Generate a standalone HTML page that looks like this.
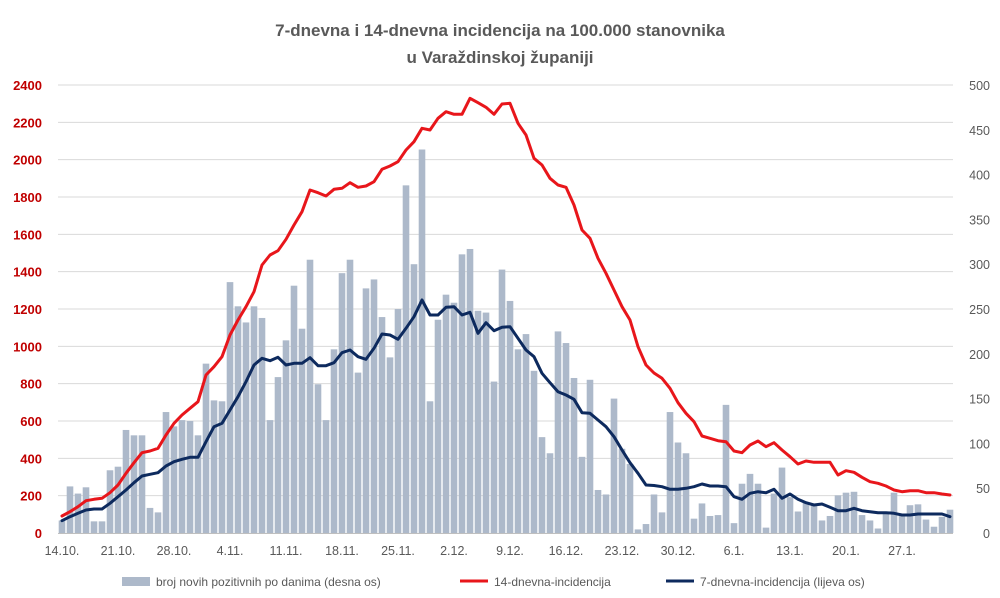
<!DOCTYPE html>
<html><head><meta charset="utf-8"><style>
html,body{margin:0;padding:0;background:#fff;width:1000px;height:598px;overflow:hidden}
svg{display:block}
text{font-family:"Liberation Sans",sans-serif}
</style></head><body>
<svg id="s" width="1000" height="598" viewBox="0 0 1000 598" xmlns="http://www.w3.org/2000/svg">
<text x="500" y="36" text-anchor="middle" font-size="17" font-weight="bold" fill="#595959">7-dnevna i 14-dnevna incidencija na 100.000 stanovnika</text>
<text x="500" y="63" text-anchor="middle" font-size="17" font-weight="bold" fill="#595959">u Varaždinskoj županiji</text>
<g id="grid"></g><g id="bars"></g><g id="lines"></g><g id="labels"></g>
<g font-size="12" fill="#595959">
<rect x="122" y="577" width="28" height="9" fill="#adb9ca"/>
<text x="156" y="586">broj novih pozitivnih po danima (desna os)</text>
<line x1="460" y1="581" x2="488" y2="581" stroke="#e8161b" stroke-width="3"/>
<text x="494" y="586">14-dnevna-incidencija</text>
<line x1="666" y1="581" x2="694" y2="581" stroke="#0d2a5e" stroke-width="3"/>
<text x="700" y="586">7-dnevna-incidencija (lijeva os)</text>
</g>
</svg>
<script>
var NS="http://www.w3.org/2000/svg";
function el(p,t,a,txt){var e=document.createElementNS(NS,t);for(var k in a)e.setAttribute(k,a[k]);if(txt!=null)e.textContent=txt;document.getElementById(p).appendChild(e);return e;}
var y0=533,top=85;
for(var k=0;k<=12;k++){var y=y0-k*(448/12);
 if(k>0)el("grid","line",{x1:58,x2:953,y1:y,y2:y,stroke:"#d9d9d9","stroke-width":1});
 el("labels","text",{x:42,y:y+5,"text-anchor":"end","font-size":13,"font-weight":"bold",fill:"#c00000"},String(k*200));
}
for(var k=0;k<=10;k++){var y=y0-k*44.8;
 el("labels","text",{x:990,y:y+5,"text-anchor":"end","font-size":12.5,fill:"#595959"},String(k*50));}
el("grid","line",{x1:58,x2:953,y1:533.5,y2:533.5,stroke:"#bfbfbf","stroke-width":1});
var bars=[14,52,44,51,13,13,70,74,115,109,109,28,23,135,119,126,125,109,189,148,147,280,253,235,253,240,126,174,215,276,228,305,166,126,205,290,305,179,273,283,241,196,250,388,300,428,147,238,266,257,311,317,248,246,169,294,259,205,222,181,107,89,225,212,173,85,171,48,43,150,94,77,4,10,43,23,135,101,89,16,33,19,20,143,11,55,66,55,6,44,73,40,24,34,31,14,19,42,45,46,20,14,5,22,45,19,31,32,15,7,18,26];
bars.forEach(function(v,i){var x=62+8*i,h=v*0.896;el("bars","rect",{x:x-3.3,y:y0-h,width:6.6,height:h,fill:"#adb9ca"});});
var red=[516,511.7,506.7,500.7,499.3,498.3,492.7,485,473.3,462.7,452.7,451,448.3,435,423.3,415,408.3,401.7,375,366.7,356.7,335,320,306.7,291.7,265,255,250.7,239.3,225,211.7,190,192.7,196,189.3,188.3,182.7,187.3,186,181.7,169.3,166,161.7,150,141.7,128.3,130,118.3,111.7,114.3,114.3,98.3,102.7,107.3,114.3,104,103.3,123.3,135,158.3,165,178.3,185,187.3,205,230,238.3,258.3,273.3,290,306.7,320,346.7,365,373,378.3,388.3,402.7,413.3,421.7,436,438.3,440.7,441.7,451,452.7,445,441,446.7,442.7,450,456.7,464,461,462.3,462.3,462.3,475,470.7,472.3,477.3,481.7,483.3,486,490,491.7,490.7,490.7,492.7,492.7,494,495];
var blue=[520.7,516.7,513.3,510,509,509,503.3,496.7,490,482.7,476,474.3,472.7,466,461.7,459.3,457.3,457.3,441.7,426.7,423.3,410,396.7,381.7,365,358.3,360.7,357.3,365,363.3,363.3,357.7,365.7,365.7,362.7,352.7,350,356.7,359.3,348.3,334,335,339.3,328.3,316.7,300,315,315,307.3,306.7,315,312.3,333.3,322.7,330.7,327.3,326.7,338.3,350,356.7,373.3,382.7,391.7,395,399.3,412.7,413.3,420,426.7,436.7,450,462.7,473.3,485,485.5,486.7,489.3,489.3,488.3,486.7,484,486,486,486.7,496.7,499.3,493.3,491.7,492.7,489.3,498.3,494,499.3,502.7,505,504,507.3,510.7,510.7,508.3,510.7,511.7,512.7,512.7,513.3,515,515,514,514,514,514,516.7];
function pl(a,c){el("lines","polyline",{points:a.map(function(y,i){return (62+8*i)+","+y}).join(" "),fill:"none",stroke:c,"stroke-width":3,"stroke-linejoin":"round","stroke-linecap":"round"});}
pl(red,"#e8161b");pl(blue,"#0d2a5e");
var xl=["14.10.","21.10.","28.10.","4.11.","11.11.","18.11.","25.11.","2.12.","9.12.","16.12.","23.12.","30.12.","6.1.","13.1.","20.1.","27.1."];
xl.forEach(function(t,i){el("labels","text",{x:62+56*i,y:555,"text-anchor":"middle","font-size":12.5,fill:"#595959"},t);});
</script>
</body></html>
